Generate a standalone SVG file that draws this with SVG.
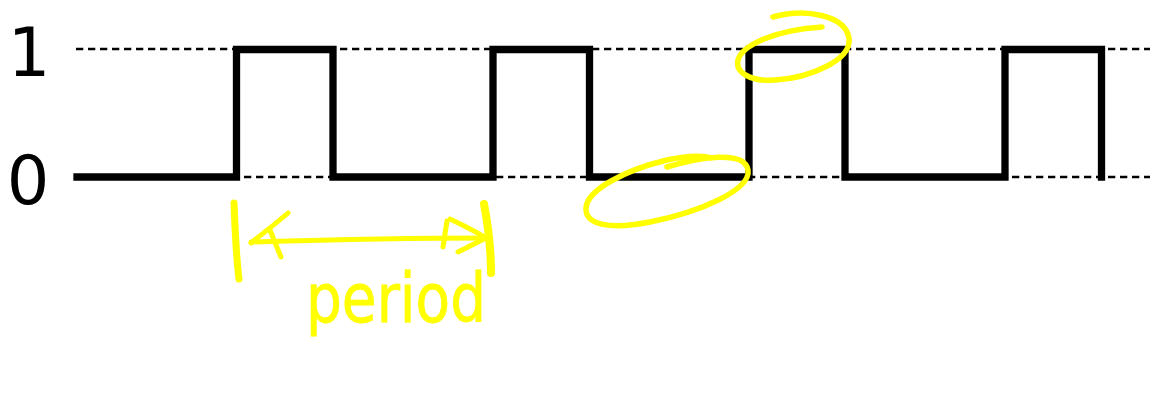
<svg xmlns="http://www.w3.org/2000/svg" width="1156" height="393" viewBox="0 0 1156 393">
<style>
.dash{stroke:#000;stroke-width:2.5;stroke-dasharray:7.3 4.7;fill:none}
.wave{stroke:#000;stroke-width:7.3;fill:none;stroke-linecap:square;stroke-linejoin:miter}
.lbl{font-family:"DejaVu Sans",sans-serif;font-size:67px;fill:#000}
.pen{stroke:#FFFF00;fill:none;stroke-linecap:round;stroke-linejoin:round}
.hand{font-family:"DejaVu Sans",sans-serif;font-size:68px;fill:#FFFF00;stroke:#FFFF00;stroke-width:0.8}
</style>
<rect width="1156" height="393" fill="#fff"/>
<g id="grid">
<line class="dash" x1="76" y1="49" x2="1150" y2="49"/>
<line class="dash" x1="76" y1="177" x2="1150" y2="177"/>
</g>
<g id="labels">
<text class="lbl" x="29" y="76" text-anchor="middle">1</text>
<text class="lbl" x="28" y="204" text-anchor="middle">0</text>
</g>
<g id="waveform">
<path class="wave" d="M77,177 H236.5 V49.5 H333 V177 H493 V49.5 H589.5 V177 H749 V49.5 H845 V177 H1005 V49.5 H1101.5 V177"/>
</g>
<g id="annotations">
<path class="pen" stroke-width="7" d="M234,203 C235,230 236,255 239,279"/>
<path class="pen" stroke-width="5" d="M251,242 C320,240 420,238 487,238"/>
<path class="pen" stroke-width="5" d="M288,213 C279,221 262,234 251,243 M270,230 C274,240 278,250 281,257"/>
<path class="pen" stroke-width="5" d="M450,219 C462,225 475,231 486,238 C478,242 468,247 458,252 M447,221 L443,247"/>
<path class="pen" stroke-width="8" d="M484,204 C488,225 491,250 491,273"/>
<text class="hand" x="306" y="322" textLength="180" lengthAdjust="spacingAndGlyphs">period</text>
<path class="pen" stroke-width="5.5" d="M667,167 C700,157 745,150 748,170 C751,190 700,212 650,222 C610,230 585,225 586,208 C587,190 625,170 667,160 C690,155 705,156 712,158"/>
<path class="pen" stroke-width="5.5" d="M773,17 C805,8 845,15 849,38 C852,60 810,78 775,80 C750,82 735,72 738,60 C742,45 775,30 822,27"/>
</g>
</svg>
